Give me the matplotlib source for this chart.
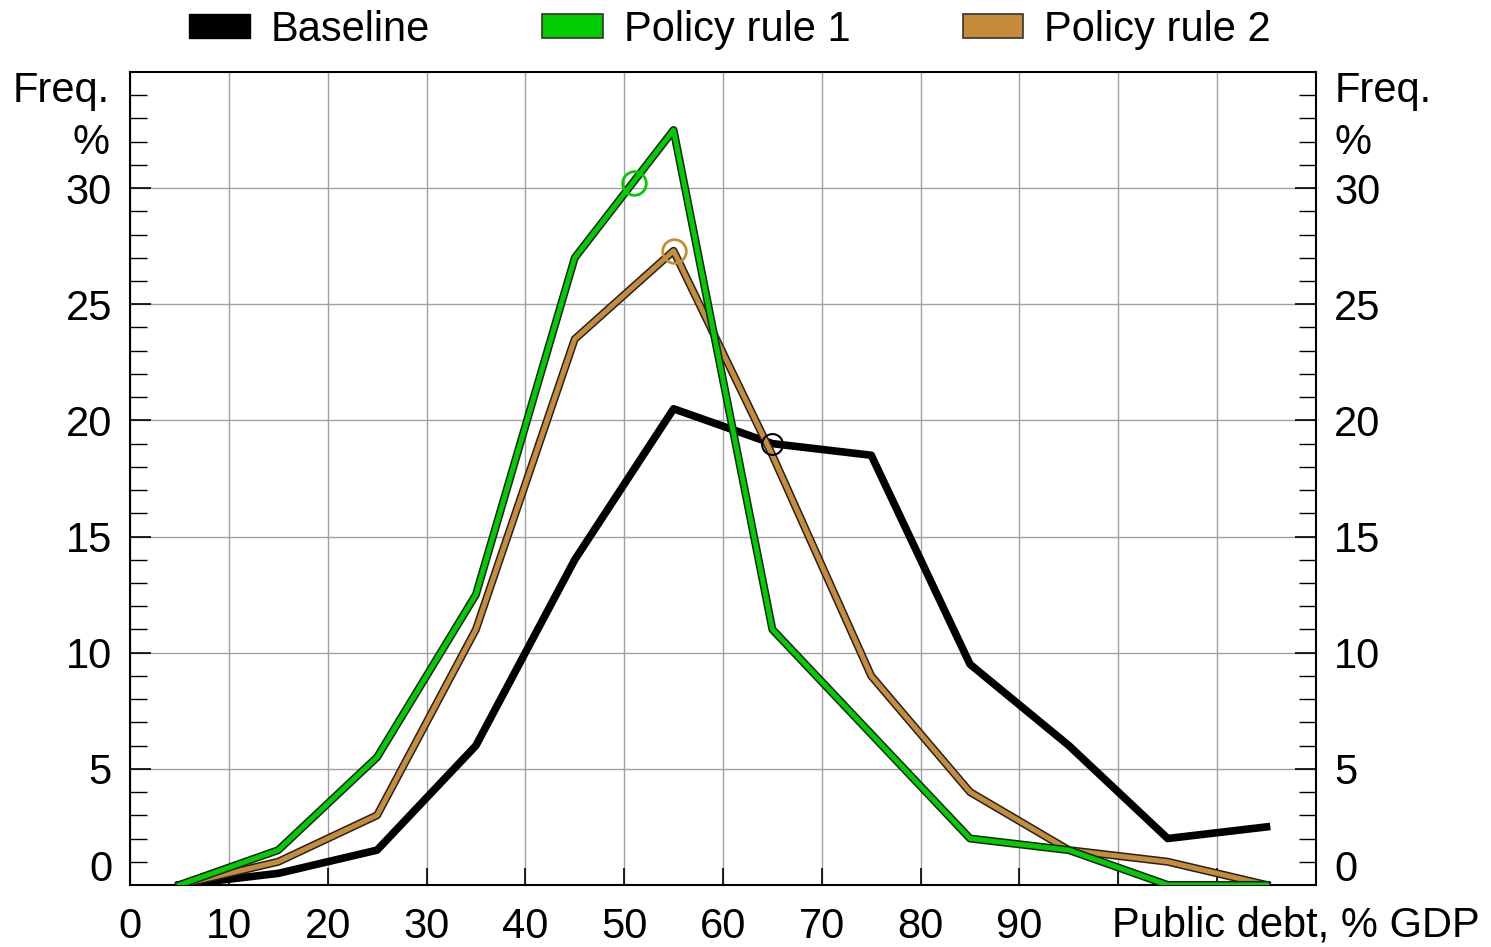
import matplotlib
matplotlib.use("Agg")
import matplotlib.pyplot as plt
import matplotlib.patheffects as pe
from matplotlib.patches import Patch

plt.rcParams['font.family'] = ['Liberation Sans', 'DejaVu Sans']

# public debt bins (% of GDP, bin centres) and frequencies (%)
debt = [5, 15, 25, 35, 45, 55, 65, 75, 85, 95, 105, 115]
baseline = [0, 0.5, 1.5, 6, 14, 20.5, 19, 18.5, 9.5, 6, 2, 2.5]
rule1 = [0, 1.5, 5.5, 12.5, 27, 32.5, 11, 6.5, 2, 1.5, 0, 0]
rule2 = [0, 1, 3, 11, 23.5, 27.3, 18.5, 9, 4, 1.5, 1, 0]

# circled points
circ_x = [51, 55, 65]
circ_y = [30.2, 27.3, 19]

green = '#00cc00'
brown = '#c68c3a'

xticks = list(range(0, 130, 10))
xlabels = ['0', '10', '20', '30', '40', '50', '60', '70', '80', '90', '', '', '']
yticks = [0, 5, 10, 15, 20, 25, 30]

fig = plt.figure(figsize=(14.91, 9.47), dpi=100)
ax = fig.add_axes([0.0872, 0.0655, 0.7954, 0.8585])
fs = 30

ax.plot(debt, baseline, color='black', lw=5.5, zorder=3)
ax.plot(debt, rule2, color=brown, lw=3.6, zorder=4,
        path_effects=[pe.Stroke(linewidth=5.8, foreground='#222222'), pe.Normal()])
ax.plot(debt, rule1, color=green, lw=3.6, zorder=5,
        path_effects=[pe.Stroke(linewidth=5.8, foreground='#222222'), pe.Normal()])

ax.plot(circ_x[0], circ_y[0], 'o', ms=17, mfc='none', mec=green, mew=2, zorder=6)
ax.plot(circ_x[1], circ_y[1], 'o', ms=17, mfc='none', mec=brown, mew=2, zorder=6)
ax.plot(circ_x[2], circ_y[2], 'o', ms=15, mfc='none', mec='black', mew=1.5, zorder=6)

ax.set_xlim(0, 120)
ax.set_ylim(0, 35)
ax.set_xticks(xticks)
ax.set_xticklabels(xlabels)
ax.set_yticks(yticks)
ax.set_yticklabels(['', '5', '10', '15', '20', '25', '30'])
ax.set_yticks(range(0, 35), minor=True)

ax.grid(True, color='#a0a0a0', lw=1)
ax.set_axisbelow(True)

ax.tick_params(axis='x', direction='in', length=12, width=1.2, pad=16,
               labelsize=fs, top=False)
ax.tick_params(axis='y', which='major', direction='in', length=15, width=1.2,
               pad=13, labelsize=fs, left=True, right=True,
               labelleft=True, labelright=True)
ax.tick_params(axis='y', which='minor', direction='in', length=12, width=1,
               left=True, right=True)
for s in ax.spines.values():
    s.set_linewidth(1.5)

# zero labels, set a little higher than the axis
ax.annotate('0', xy=(0, 0), xycoords=('axes fraction', 'data'), xytext=(-18, 15),
            textcoords='offset pixels', ha='right', va='center', fontsize=fs)
ax.annotate('0', xy=(1, 0), xycoords=('axes fraction', 'data'), xytext=(18, 15),
            textcoords='offset pixels', ha='left', va='center', fontsize=fs)

fig.text(110 / 1491, 1 - 91 / 947, 'Freq.', ha='right', va='center', fontsize=fs)
fig.text(110 / 1491, 1 - 143 / 947, '%', ha='right', va='center', fontsize=fs)
fig.text(1335 / 1491, 1 - 91 / 947, 'Freq.', ha='left', va='center', fontsize=fs)
fig.text(1335 / 1491, 1 - 143 / 947, '%', ha='left', va='center', fontsize=fs)
fig.text(1480 / 1491, 1 - 925 / 947, 'Public debt, % GDP', ha='right', va='center',
         fontsize=fs)

handles = [Patch(facecolor='black', edgecolor='black', label='Baseline'),
           Patch(facecolor=green, edgecolor='#333333', lw=1.2, label='Policy rule 1'),
           Patch(facecolor=brown, edgecolor='#333333', lw=1.2, label='Policy rule 2')]
fig.legend(handles=handles, loc='center', bbox_to_anchor=(0.4896, 1 - 30 / 947),
           ncol=3, frameon=False, fontsize=fs, handlelength=1.45, handleheight=0.5,
           handletextpad=0.5, columnspacing=2.7, borderaxespad=0)

fig.savefig('out.png', dpi=100)
